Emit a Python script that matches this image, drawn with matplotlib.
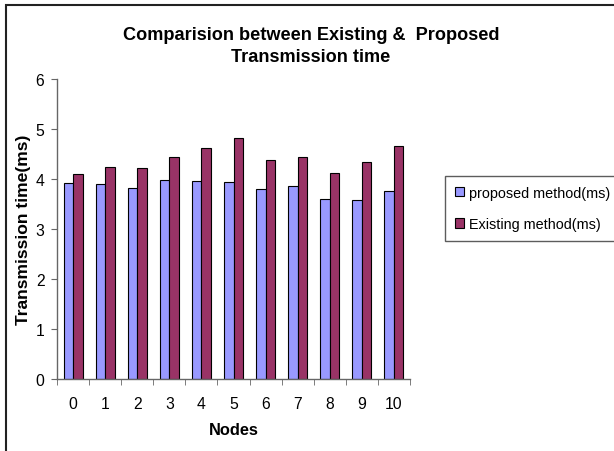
import numpy as np
import matplotlib.pyplot as plt
from matplotlib.patches import Rectangle

plt.rcParams['font.family'] = ['Liberation Sans', 'DejaVu Sans']

nodes = ['0', '1', '2', '3', '4', '5', '6', '7', '8', '9', '10']
proposed = [3.93, 3.90, 3.83, 3.99, 3.97, 3.95, 3.80, 3.87, 3.60, 3.58, 3.77]
existing = [4.10, 4.25, 4.22, 4.45, 4.62, 4.82, 4.39, 4.45, 4.12, 4.35, 4.67]

fig = plt.figure(figsize=(6.14, 4.52), dpi=100)
ax = fig.add_axes([0.0928, 0.1593, 0.575, 0.6637])

x = np.arange(len(nodes))
w = 0.296
ax.bar(x - w / 2, proposed, w, color='#9999FF', edgecolor='black', linewidth=0.8,
       label='proposed method(ms)')
ax.bar(x + w / 2, existing, w, color='#993366', edgecolor='black', linewidth=0.8,
       label='Existing method(ms)')

ax.set_xlim(-0.5, len(nodes) - 0.5)
ax.set_ylim(0, 6)
ax.set_xticks(x)
ax.set_xticklabels(nodes, fontsize=11.3)
ax.set_xticks(np.arange(-0.5, len(nodes), 1), minor=True)
ax.tick_params(axis='x', which='major', length=0, pad=12)
ax.tick_params(axis='x', which='minor', length=4, direction='out', color='#666666')
ax.set_yticks(range(7))
ax.tick_params(axis='y', labelsize=11.3, length=4, color='#666666', pad=5)
for s in ['top', 'right']:
    ax.spines[s].set_visible(False)
for s in ['left', 'bottom']:
    ax.spines[s].set_color('#666666')
    ax.spines[s].set_linewidth(1.0)

ax.set_xlabel('Nodes', fontsize=11.8, fontweight='bold', labelpad=8)
ax.set_ylabel('Transmission time(ms)', fontsize=12.6, fontweight='bold', labelpad=3.5)
fig.text(0.5065, 0.897, 'Comparision between Existing &  Proposed\nTransmission time',
         ha='center', va='center', fontsize=13.1, fontweight='bold', linespacing=1.45)

leg = fig.legend(loc='upper left', bbox_to_anchor=(445 / 614, 1 - 177 / 452),
                 fontsize=10.4, frameon=True, fancybox=False, edgecolor='#333333',
                 handlelength=0.63, handleheight=0.63, handletextpad=0.35,
                 labelspacing=1.2, borderpad=0.67, borderaxespad=0)
leg.get_frame().set_linewidth(1.0)

# outer chart border, cut off on the right and bottom like the source image
fig.patches.append(Rectangle((6 / 614, -0.05), 1.2, 1.05 - 6 / 452,
                             transform=fig.transFigure, fill=False,
                             edgecolor='#222222', linewidth=1.5))

fig.savefig('out.png', dpi=100)
